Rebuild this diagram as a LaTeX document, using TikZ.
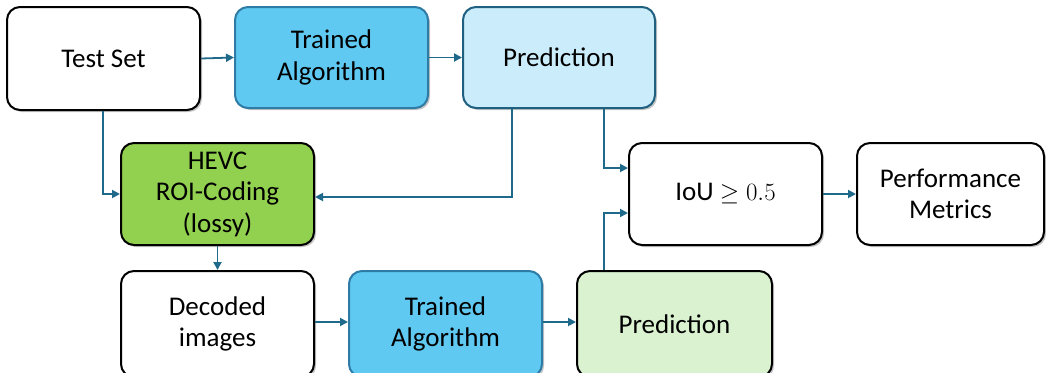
\documentclass[tikz,border=0pt]{standalone}
\usepackage{fontspec}
\setmainfont{Carlito}
\usetikzlibrary{shadows,arrows.meta}
\definecolor{lineblue}{HTML}{1F6A8A}
\definecolor{algofill}{HTML}{5FC9F1}
\definecolor{algoborder}{HTML}{2E7BA6}
\definecolor{predfill}{HTML}{CBEDFB}
\definecolor{predborder}{HTML}{1F5F80}
\definecolor{hevcfill}{HTML}{92D050}
\definecolor{pred2fill}{HTML}{DAF2D0}
\begin{document}
\begin{tikzpicture}[x=1pt,y=-1pt,
  box/.style={draw=black, line width=2pt, rounded corners=13pt, fill=white,
    drop shadow={shadow xshift=2pt, shadow yshift=-2pt, opacity=0.45},
    align=center, font=\fontsize{27}{31.5}\selectfont, inner sep=0pt},
  conn/.style={draw=lineblue, line width=1.8pt, -{Triangle[length=8pt,width=8pt]}}]
\useasboundingbox (0,0) rectangle (1046,372);
\fill[white] (0,0) rectangle (1046,372);
% top row
\node[box, minimum width=193pt, minimum height=103pt] (test) at (103.5,58.5) {Test Set};
\node[box, draw=algoborder, fill=algofill, minimum width=193pt, minimum height=101pt] (algo1) at (331.5,57.5) {Trained\\Algorithm};
\node[box, draw=predborder, fill=predfill, minimum width=192pt, minimum height=101pt] (pred1) at (559,57.5) {Prediction};
% middle row
\node[box, fill=hevcfill, minimum width=193pt, minimum height=102pt] (hevc) at (217.5,194) {HEVC\\ROI-Coding\\(lossy)};
\node[box, minimum width=193pt, minimum height=102pt] (iou) at (725.5,194) {IoU $\geq 0.5$};
\node[box, minimum width=187pt, minimum height=102pt] (perf) at (950.5,194) {Performance\\Metrics};
% bottom row
\node[box, minimum width=193pt, minimum height=106pt] (dec) at (217.5,324) {Decoded\\images};
\node[box, draw=algoborder, fill=algofill, minimum width=193pt, minimum height=106pt] (algo2) at (445.5,324) {Trained\\Algorithm};
\node[box, fill=pred2fill, minimum width=195pt, minimum height=106pt] (pred2) at (674.5,324) {Prediction};
% connectors
\coordinate (t1) at (103,194);
\coordinate (p1a) at (512,197);
\coordinate (p1b) at (604,168);
\coordinate (p2a) at (604,213);
\draw[conn] (test.east) -- (algo1.west);
\draw[conn] (algo1.east) -- (pred1.west);
\draw[conn] (test.south -| t1) -- (t1) -- (hevc.west |- t1);
\draw[conn] (pred1.south -| p1a) -- (p1a) -- (hevc.east |- p1a);
\draw[conn] (pred1.south -| p1b) -- (p1b) -- (iou.west |- p1b);
\draw[conn] (pred2.north -| p2a) -- (p2a) -- (iou.west |- p2a);
\draw[conn] (iou.east) -- (perf.west);
\draw[conn] (hevc.south) -- (dec.north);
\draw[conn] (dec.east |- 0,322) -- (algo2.west |- 0,322);
\draw[conn] (algo2.east |- 0,322) -- (pred2.west |- 0,322);
\end{tikzpicture}
\end{document}
